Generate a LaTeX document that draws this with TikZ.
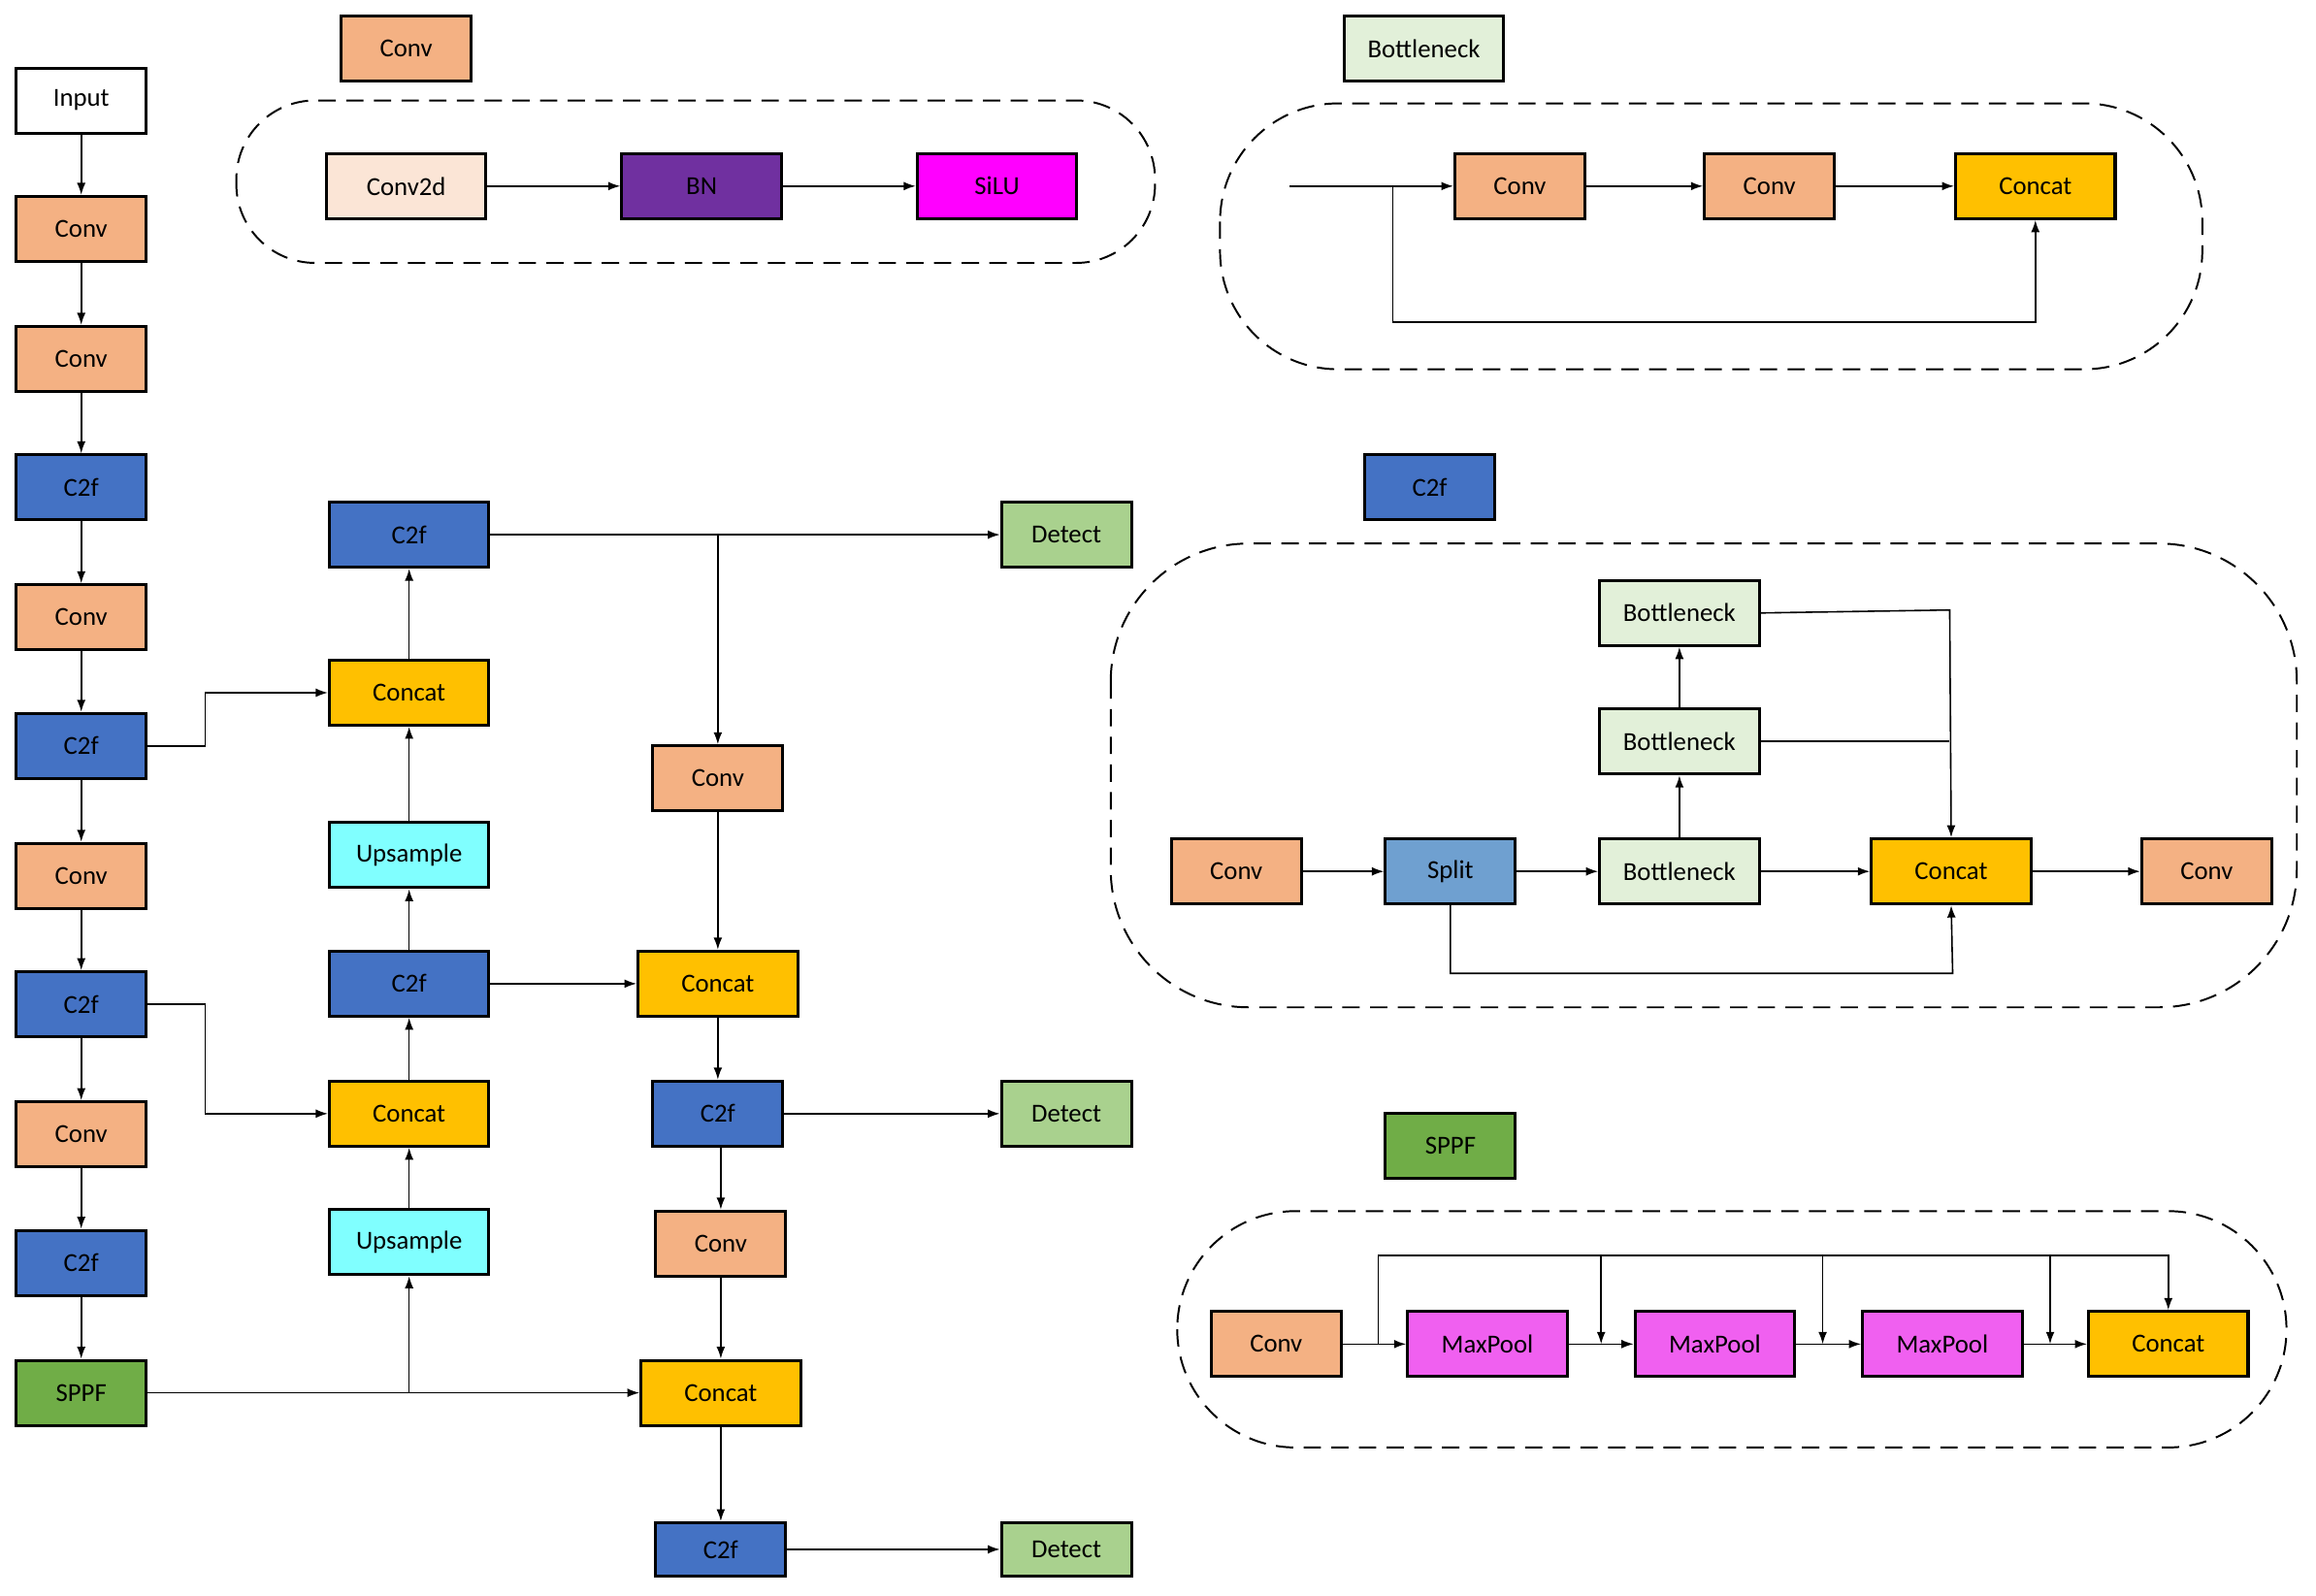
\documentclass[tikz,border=0pt]{standalone}
\usepackage{fontspec}
\setmainfont{Carlito}
\usetikzlibrary{arrows.meta,calc}
\definecolor{cconv}{HTML}{F4B183}
\definecolor{cc2f}{HTML}{4472C4}
\definecolor{ccat}{HTML}{FFC000}
\definecolor{cup}{HTML}{80FFFF}
\definecolor{cdet}{HTML}{A9D18E}
\definecolor{csppf}{HTML}{70AD47}
\definecolor{cbn}{HTML}{7030A0}
\definecolor{csilu}{HTML}{FF00FF}
\definecolor{cc2d}{HTML}{FBE5D6}
\definecolor{cbot}{HTML}{E2F0D9}
\definecolor{csplit}{HTML}{6FA0D0}
\definecolor{cmp}{HTML}{F060F0}
\begin{document}
\begin{tikzpicture}[x=0.03cm,y=-0.03cm,
 box/.style={draw=black,line width=1.7pt,minimum width=2.64cm,minimum height=1.32cm,inner sep=0pt,font=\fontsize{15}{18}\selectfont},
 wbox/.style={box,minimum width=3.24cm},
 ar/.style={-{Latex[length=7pt,width=5pt]},line width=0.9pt},
 ln/.style={line width=0.9pt},
 dbox/.style={draw,dashed,line width=1.1pt,rounded corners=1.6cm,dash pattern=on 10pt off 6pt}]
\useasboundingbox (0,0) rectangle (1568,1080);
% left column
\node[box,fill=white] (in) at (55,68) {Input};
\node[box,fill=cconv] (l1) at (55,155) {Conv};
\node[box,fill=cconv] (l2) at (55,243) {Conv};
\node[box,fill=cc2f] (l3) at (55,330) {C2f};
\node[box,fill=cconv] (l4) at (55,418) {Conv};
\node[box,fill=cc2f] (l5) at (55,505) {C2f};
\node[box,fill=cconv] (l6) at (55,593) {Conv};
\node[box,fill=cc2f] (l7) at (55,680) {C2f};
\node[box,fill=cconv] (l8) at (55,768) {Conv};
\node[box,fill=cc2f] (l9) at (55,855) {C2f};
\node[box,fill=csppf] (l10) at (55,943) {SPPF};
\foreach \a/\b in {in/l1,l1/l2,l2/l3,l3/l4,l4/l5,l5/l6,l6/l7,l7/l8,l8/l9,l9/l10} \draw[ar] (\a) -- (\b);
% column 2
\node[wbox,fill=cc2f] (m1) at (277,362) {C2f};
\node[wbox,fill=ccat] (m2) at (277,469) {Concat};
\node[wbox,fill=cup] (m3) at (277,579) {Upsample};
\node[wbox,fill=cc2f] (m4) at (277,666) {C2f};
\node[wbox,fill=ccat] (m5) at (277,754) {Concat};
\node[wbox,fill=cup] (m6) at (277,841) {Upsample};
% column 3
\node[box,fill=cconv] (r1) at (486,527) {Conv};
\node[wbox,fill=ccat] (r2) at (486,666) {Concat};
\node[box,fill=cc2f] (r3) at (486,754) {C2f};
\node[box,fill=cconv] (r4) at (488,842) {Conv};
\node[wbox,fill=ccat] (r5) at (488,943) {Concat};
\node[box,fill=cc2f,minimum height=1.08cm] (r6) at (488,1049) {C2f};
\node[box,fill=cdet] (d1) at (722,362) {Detect};
\node[box,fill=cdet] (d2) at (722,754) {Detect};
\node[box,fill=cdet,minimum height=1.08cm] (d3) at (722,1049) {Detect};
\draw[ar] (l5.east) -- (139,505) -- (139,469) -- (m2.west);
\draw[ar] (l7.east) -- (139,680) -- (139,754) -- (m5.west);
\coordinate (j1) at (277,943);
\draw[ar] (l10) -- (r5);
\draw[ar] (j1) -- (m6);
\draw[ar] (m6) -- (m5); \draw[ar] (m5) -- (m4); \draw[ar] (m4) -- (m3);
\draw[ar] (m3) -- (m2); \draw[ar] (m2) -- (m1);
\coordinate (j2) at (486,362);
\draw[ar] (m1) -- (d1);
\draw[ar] (j2) -- (r1);
\draw[ar] (r1) -- (r2); \draw[ar] (m4) -- (r2);
\draw[ar] (r2) -- (r3); \draw[ar] (r3) -- (d2);
\draw[ar] (r3.south -| r4) -- (r4); \draw[ar] (r4) -- (r5);
\draw[ar] (r5) -- (r6); \draw[ar] (r6) -- (d3);
% Conv legend
\node[box,fill=cconv] (lc) at (275,33) {Conv};
\draw[dbox] (160,68) rectangle (782,178);
\node[wbox,fill=cc2d] (c2d) at (275,126) {Conv2d};
\node[wbox,fill=cbn] (bn) at (475,126) {BN};
\node[wbox,fill=csilu] (silu) at (675,126) {SiLU};
\draw[ar] (c2d) -- (bn); \draw[ar] (bn) -- (silu);
% Bottleneck legend
\node[wbox,fill=cbot] (lb) at (964,33) {Bottleneck};
\draw[dbox,rounded corners=2.4cm] (826,70) rectangle (1491,250);
\node[box,fill=cconv] (b1) at (1029,126) {Conv};
\node[box,fill=cconv] (b2) at (1198,126) {Conv};
\node[wbox,fill=ccat] (b3) at (1378,126) {Concat};
\coordinate (bin) at (873,126);
\draw[ar] (bin) -- (b1); \draw[ar] (b1) -- (b2); \draw[ar] (b2) -- (b3);
\draw[ar] (943,126) -- (943,218) -- (1378,218) -- (b3.south);
% C2f legend
\node[box,fill=cc2f] (lf) at (968,330) {C2f};
\draw[dbox,rounded corners=2.8cm] (752,368) rectangle (1555,682);
\node[box,fill=cconv] (f1) at (837,590) {Conv};
\node[box,fill=csplit] (f2) at (982,590) {Split};
\node[wbox,fill=cbot] (f3) at (1137,590) {Bottleneck};
\node[wbox,fill=cbot] (f4) at (1137,502) {Bottleneck};
\node[wbox,fill=cbot] (f5) at (1137,415) {Bottleneck};
\node[wbox,fill=ccat] (f6) at (1321,590) {Concat};
\node[box,fill=cconv] (f7) at (1494,590) {Conv};
\draw[ar] (f1) -- (f2); \draw[ar] (f2) -- (f3); \draw[ar] (f3) -- (f4); \draw[ar] (f4) -- (f5);
\draw[ar] (f3) -- (f6); \draw[ar] (f6) -- (f7);
\draw[ar] (f5.east) -- (1320,413) -- (f6.north);
\draw[ln] (f4.east) -- (1320,502);
\draw[ar] (f2.south) -- (982,659) -- (1322,659) -- (f6.south);
% SPPF legend
\node[box,fill=csppf] (ls) at (982,776) {SPPF};
\draw[dbox,rounded corners=2.4cm] (797,820) rectangle (1548,980);
\node[box,fill=cconv] (s1) at (864,910) {Conv};
\node[wbox,fill=cmp] (s2) at (1007,910) {MaxPool};
\node[wbox,fill=cmp] (s3) at (1161,910) {MaxPool};
\node[wbox,fill=cmp] (s4) at (1315,910) {MaxPool};
\node[wbox,fill=ccat] (s5) at (1468,910) {Concat};
\draw[ar] (s1) -- (s2); \draw[ar] (s2) -- (s3); \draw[ar] (s3) -- (s4); \draw[ar] (s4) -- (s5);
\draw[ar] (933,910) -- (933,850) -- (1468,850) -- (s5.north);
\draw[ar] (1084,850) -- (1084,910);
\draw[ar] (1234,850) -- (1234,910);
\draw[ar] (1388,850) -- (1388,910);
\end{tikzpicture}
\end{document}
